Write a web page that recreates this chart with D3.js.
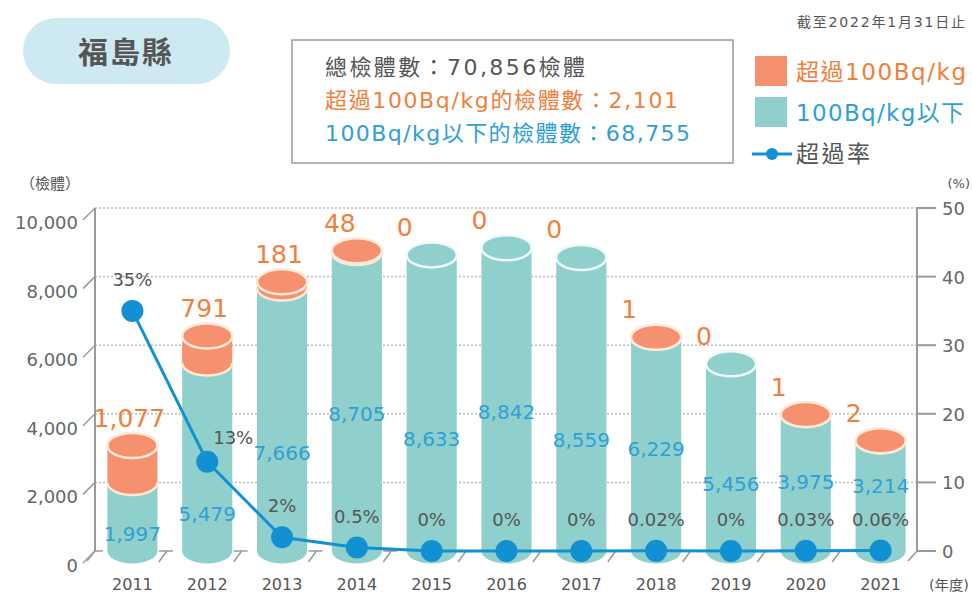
<!DOCTYPE html>
<html>
<head>
<meta charset="utf-8">
<script src="https://cdn.jsdelivr.net/npm/d3@7"></script>
<style>
	body { margin: 0; background: #fff; }
	text { font-family: "DejaVu Sans", "Noto Sans CJK TC", sans-serif; }
</style>
</head>
<body>
<div id="chartCtn"></div>
<script>
const years = [ '2011', '2012', '2013', '2014', '2015', '2016', '2017', '2018', '2019', '2020', '2021' ];
const excess = [ 1077, 791, 181, 48, 0, 0, 0, 1, 0, 1, 2 ];
const below = [ 1997, 5479, 7666, 8705, 8633, 8842, 8559, 6229, 5456, 3975, 3214 ];
const rate = [ 35, 13, 2, 0.5, 0, 0, 0, 0.02, 0, 0.03, 0.06 ];
const rateLabels = [ '35%', '13%', '2%', '0.5%', '0%', '0%', '0%', '0.02%', '0%', '0.03%', '0.06%' ];
const countTicks = [ 0, 2000, 4000, 6000, 8000, 10000 ];
const rateTicks = [ 0, 10, 20, 30, 40, 50 ];
const summary = [ '總檢體數：70,856檢體', '超過100Bq/kg的檢體數：2,101', '100Bq/kg以下的檢體數：68,755' ];
const legendItems = [ '超過100Bq/kg', '100Bq/kg以下', '超過率' ];

const W = 972, H = 596;
const ORANGE = '#f5916f', TEAL = '#8fd0cc', CREAM = '#fde9d8';
const ORANGE_TXT = '#f0803c', BLUE_TXT = '#2f9fd8', LINE = '#1190d4', GRAY = '#555';

const svg = d3.select( '#chartCtn' ).append( 'svg' )
	.attr( 'width', W ).attr( 'height', H )
	.attr( 'viewBox', [ 0, 0, W, H ] );

const x = d3.scaleBand().domain( years ).range( [ 95, 918 ] ).padding( 0 );
const yL = d3.scaleLinear().domain( [ 0, 10000 ] ).range( [ 551, 208 ] );
const yR = d3.scaleLinear().domain( [ 0, 50 ] ).range( [ 551, 208 ] );
const fmt = d3.format( ',' );
const cx = y => x( y ) + x.bandwidth() / 2;
const w = x.bandwidth() * 0.335, ry = 12.5;
const y0 = yL( 0 );

// title pill
svg.append( 'rect' ).attr( 'x', 23 ).attr( 'y', 18 ).attr( 'width', 207 ).attr( 'height', 66 )
	.attr( 'rx', 33 ).attr( 'fill', '#cde9f1' );
svg.append( 'text' ).attr( 'x', 126 ).attr( 'y', 63 ).attr( 'text-anchor', 'middle' )
	.style( 'font-size', '30px' ).style( 'font-weight', 'bold' ).attr( 'fill', GRAY )
	.attr( 'letter-spacing', 2 ).text( '福島縣' );

// summary box
svg.append( 'rect' ).attr( 'x', 292 ).attr( 'y', 40 ).attr( 'width', 441 ).attr( 'height', 123 )
	.attr( 'fill', 'none' ).attr( 'stroke', '#999' ).attr( 'stroke-width', 1.5 );
const sumColors = [ GRAY, ORANGE_TXT, BLUE_TXT ];
const sumWidths = [ 260, 353, 365 ];
summary.forEach( ( s, i ) => {
	svg.append( 'text' ).attr( 'x', 325 ).attr( 'y', 75 + i * 33 )
		.style( 'font-size', '22px' ).attr( 'fill', sumColors[ i ] )
		.attr( 'textLength', sumWidths[ i ] ).attr( 'lengthAdjust', 'spacing' ).text( s );
} );

// date note + legend
svg.append( 'text' ).attr( 'x', 965 ).attr( 'y', 27 ).attr( 'text-anchor', 'end' )
	.style( 'font-size', '14px' ).attr( 'fill', GRAY )
	.attr( 'textLength', 168 ).attr( 'lengthAdjust', 'spacing' ).text( '截至2022年1月31日止' );
svg.append( 'rect' ).attr( 'x', 755 ).attr( 'y', 56 ).attr( 'width', 32 ).attr( 'height', 30 ).attr( 'fill', ORANGE );
svg.append( 'rect' ).attr( 'x', 755 ).attr( 'y', 97 ).attr( 'width', 32 ).attr( 'height', 30 ).attr( 'fill', TEAL );
svg.append( 'line' ).attr( 'x1', 752 ).attr( 'x2', 792 ).attr( 'y1', 154 ).attr( 'y2', 154 )
	.attr( 'stroke', LINE ).attr( 'stroke-width', 3 );
svg.append( 'circle' ).attr( 'cx', 772 ).attr( 'cy', 154 ).attr( 'r', 6 ).attr( 'fill', LINE );
const legColors = [ ORANGE_TXT, BLUE_TXT, GRAY ];
const legWidths = [ 170, 168, 74 ];
legendItems.forEach( ( s, i ) => {
	svg.append( 'text' ).attr( 'x', 796 ).attr( 'y', 80 + i * 41 )
		.style( 'font-size', '23px' ).attr( 'fill', legColors[ i ] )
		.attr( 'textLength', legWidths[ i ] ).attr( 'lengthAdjust', 'spacing' ).text( s );
} );

// unit labels
svg.append( 'text' ).attr( 'x', 20 ).attr( 'y', 189 ).style( 'font-size', '15px' ).attr( 'fill', GRAY )
	.attr( 'textLength', 60 ).text( '（檢體）' );
svg.append( 'text' ).attr( 'x', 970 ).attr( 'y', 188 ).attr( 'text-anchor', 'end' ).style( 'font-size', '13px' ).attr( 'fill', GRAY ).text( '(%)' );
svg.append( 'text' ).attr( 'x', 969 ).attr( 'y', 590 ).attr( 'text-anchor', 'end' ).style( 'font-size', '14px' ).attr( 'fill', GRAY )
	.attr( 'textLength', 40 ).attr( 'lengthAdjust', 'spacingAndGlyphs' ).text( '(年度)' );

// grid lines on the back wall
svg.append( 'g' ).selectAll( 'line' ).data( countTicks.filter( d => d > 0 ) ).join( 'line' )
	.attr( 'x1', 95 ).attr( 'x2', 917 ).attr( 'y1', d => yL( d ) ).attr( 'y2', d => yL( d ) )
	.attr( 'stroke', '#bbb' ).attr( 'stroke-width', 1.5 ).attr( 'stroke-dasharray', '2,2' );

// left axis
const axisCol = '#9a9a9a';
svg.append( 'line' ).attr( 'x1', 95 ).attr( 'x2', 95 ).attr( 'y1', yL( 10000 ) ).attr( 'y2', y0 )
	.attr( 'stroke', axisCol ).attr( 'stroke-width', 2 );
const lt = svg.append( 'g' ).selectAll( 'g' ).data( countTicks ).join( 'g' );
lt.append( 'line' ).attr( 'x1', 83 ).attr( 'x2', 95 ).attr( 'y1', d => yL( d ) + 12 ).attr( 'y2', d => yL( d ) )
	.attr( 'stroke', axisCol ).attr( 'stroke-width', 1.5 );
lt.append( 'text' ).attr( 'x', 78 ).attr( 'y', d => yL( d ) + 21 ).attr( 'text-anchor', 'end' )
	.style( 'font-size', '18px' ).attr( 'fill', '#666' ).text( d => fmt( d ) );

// right axis
svg.append( 'line' ).attr( 'x1', 917 ).attr( 'x2', 917 ).attr( 'y1', yR( 50 ) ).attr( 'y2', y0 )
	.attr( 'stroke', axisCol ).attr( 'stroke-width', 2 );
const rt = svg.append( 'g' ).selectAll( 'g' ).data( rateTicks ).join( 'g' );
rt.append( 'line' ).attr( 'x1', 917 ).attr( 'x2', 936 ).attr( 'y1', d => yR( d ) ).attr( 'y2', d => yR( d ) )
	.attr( 'stroke', axisCol ).attr( 'stroke-width', 2 );
rt.append( 'text' ).attr( 'x', 942 ).attr( 'y', d => yR( d ) + 7 )
	.style( 'font-size', '18px' ).attr( 'fill', '#666' ).text( d => d );

// floor marks at category boundaries
const bounds = d3.range( years.length + 1 ).map( k => 95 + x.step() * k );
const fl = svg.append( 'g' ).attr( 'stroke', axisCol ).attr( 'stroke-width', 1.5 ).attr( 'fill', 'none' );
bounds.forEach( ( bx, k ) => {
	if ( k === 0 ) {
		fl.append( 'path' ).attr( 'd', `M${ bx - 8 },${ y0 + 10 }L${ bx },${ y0 }L${ bx + 8 },${ y0 }` );
	} else if ( k === years.length ) {
		fl.append( 'path' ).attr( 'd', `M${ bx - 10 },${ y0 + 10 }L${ bx - 1 },${ y0 }` );
	} else {
		fl.append( 'path' ).attr( 'd', `M${ bx - 11 },${ y0 + 11 }L${ bx - 3 },${ y0 }M${ bx - 11 },${ y0 }L${ bx + 3 },${ y0 }` );
	}
} );

// cylinders
const bars = svg.append( 'g' ).selectAll( 'g' ).data( years ).join( 'g' );
bars.each( function ( yr, i ) {
	const g = d3.select( this );
	const c = cx( yr );
	const yT = yL( below[ i ] ), yTop = yL( below[ i ] + excess[ i ] );
	g.append( 'path' ).attr( 'fill', TEAL )
		.attr( 'd', `M${ c - w },${ yT }L${ c - w },${ y0 }A${ w },${ ry } 0 0 0 ${ c + w },${ y0 }L${ c + w },${ yT }Z` );
	if ( excess[ i ] > 0 ) {
		g.append( 'path' ).attr( 'fill', ORANGE )
			.attr( 'd', `M${ c - w },${ yTop }L${ c - w },${ yT }A${ w },${ ry } 0 0 0 ${ c + w },${ yT }L${ c + w },${ yTop }Z` );
		g.append( 'path' ).attr( 'fill', 'none' ).attr( 'stroke', CREAM ).attr( 'stroke-width', 2.5 )
			.attr( 'd', `M${ c - w },${ yT }A${ w },${ ry } 0 0 0 ${ c + w },${ yT }` );
	}
	g.append( 'ellipse' ).attr( 'cx', c ).attr( 'cy', yTop ).attr( 'rx', w ).attr( 'ry', ry )
		.attr( 'fill', excess[ i ] > 0 ? ORANGE : TEAL )
		.attr( 'stroke', excess[ i ] > 0 ? CREAM : '#effafa' ).attr( 'stroke-width', 2.5 );
} );

// rate line
const pts = years.map( ( yr, i ) => [ cx( yr ), yR( rate[ i ] ) ] );
svg.append( 'path' ).datum( pts ).attr( 'fill', 'none' ).attr( 'stroke', LINE ).attr( 'stroke-width', 3 )
	.attr( 'd', d3.line() );
svg.append( 'g' ).selectAll( 'circle' ).data( pts ).join( 'circle' )
	.attr( 'cx', d => d[ 0 ] ).attr( 'cy', d => d[ 1 ] ).attr( 'r', 11 ).attr( 'fill', LINE );

// rate labels (shifted right where the incoming segment is steep)
const rateLabelPos = pts.map( ( p, i ) => {
	const steep = i > 0 && rate[ i - 1 ] - rate[ i ] > 15;
	return steep ? [ p[ 0 ] + 26, p[ 1 ] - 24 ] : [ p[ 0 ], p[ 1 ] - 31 ];
} );
svg.append( 'g' ).selectAll( 'text' ).data( rateLabels ).join( 'text' )
	.attr( 'x', ( d, i ) => rateLabelPos[ i ][ 0 ] ).attr( 'y', ( d, i ) => rateLabelPos[ i ][ 1 ] + 6 )
	.attr( 'text-anchor', 'middle' ).style( 'font-size', '18px' ).attr( 'fill', GRAY ).text( d => d );

// excess counts above each cylinder
svg.append( 'g' ).selectAll( 'text' ).data( excess ).join( 'text' )
	.attr( 'x', ( d, i ) => cx( years[ i ] ) - ( d < 10 ? 27 : ( d < 100 ? 17 : 3 ) ) )
	.attr( 'y', ( d, i ) => yL( below[ i ] + d ) - 28 + 9 )
	.attr( 'text-anchor', 'middle' ).style( 'font-size', '25px' ).attr( 'fill', ORANGE_TXT )
	.text( d => fmt( d ) );

// counts at or below 100Bq/kg inside each cylinder (staggered so neighbours don't collide)
const belowLabelY = below.map( ( v, i ) => {
	let y = yL( v * 0.42 ) + ( i % 2 === 0 ? 12 : -12 );
	const [ , dotY ] = pts[ i ];
	if ( Math.abs( y - dotY ) < 25 ) y = dotY + 52;
	const pY = rateLabelPos[ i ][ 1 ];
	if ( pY > y - 10 ) y = Math.min( y, pY - 34 );
	return y;
} );
svg.append( 'g' ).selectAll( 'text' ).data( below ).join( 'text' )
	.attr( 'x', ( d, i ) => cx( years[ i ] ) ).attr( 'y', ( d, i ) => belowLabelY[ i ] + 7 )
	.attr( 'text-anchor', 'middle' ).style( 'font-size', '20px' ).attr( 'fill', BLUE_TXT )
	.text( d => fmt( d ) );

// year labels
svg.append( 'g' ).selectAll( 'text' ).data( years ).join( 'text' )
	.attr( 'x', d => cx( d ) ).attr( 'y', 590 ).attr( 'text-anchor', 'middle' )
	.style( 'font-size', '16px' ).attr( 'fill', GRAY ).text( d => d );
</script>
</body>
</html>
